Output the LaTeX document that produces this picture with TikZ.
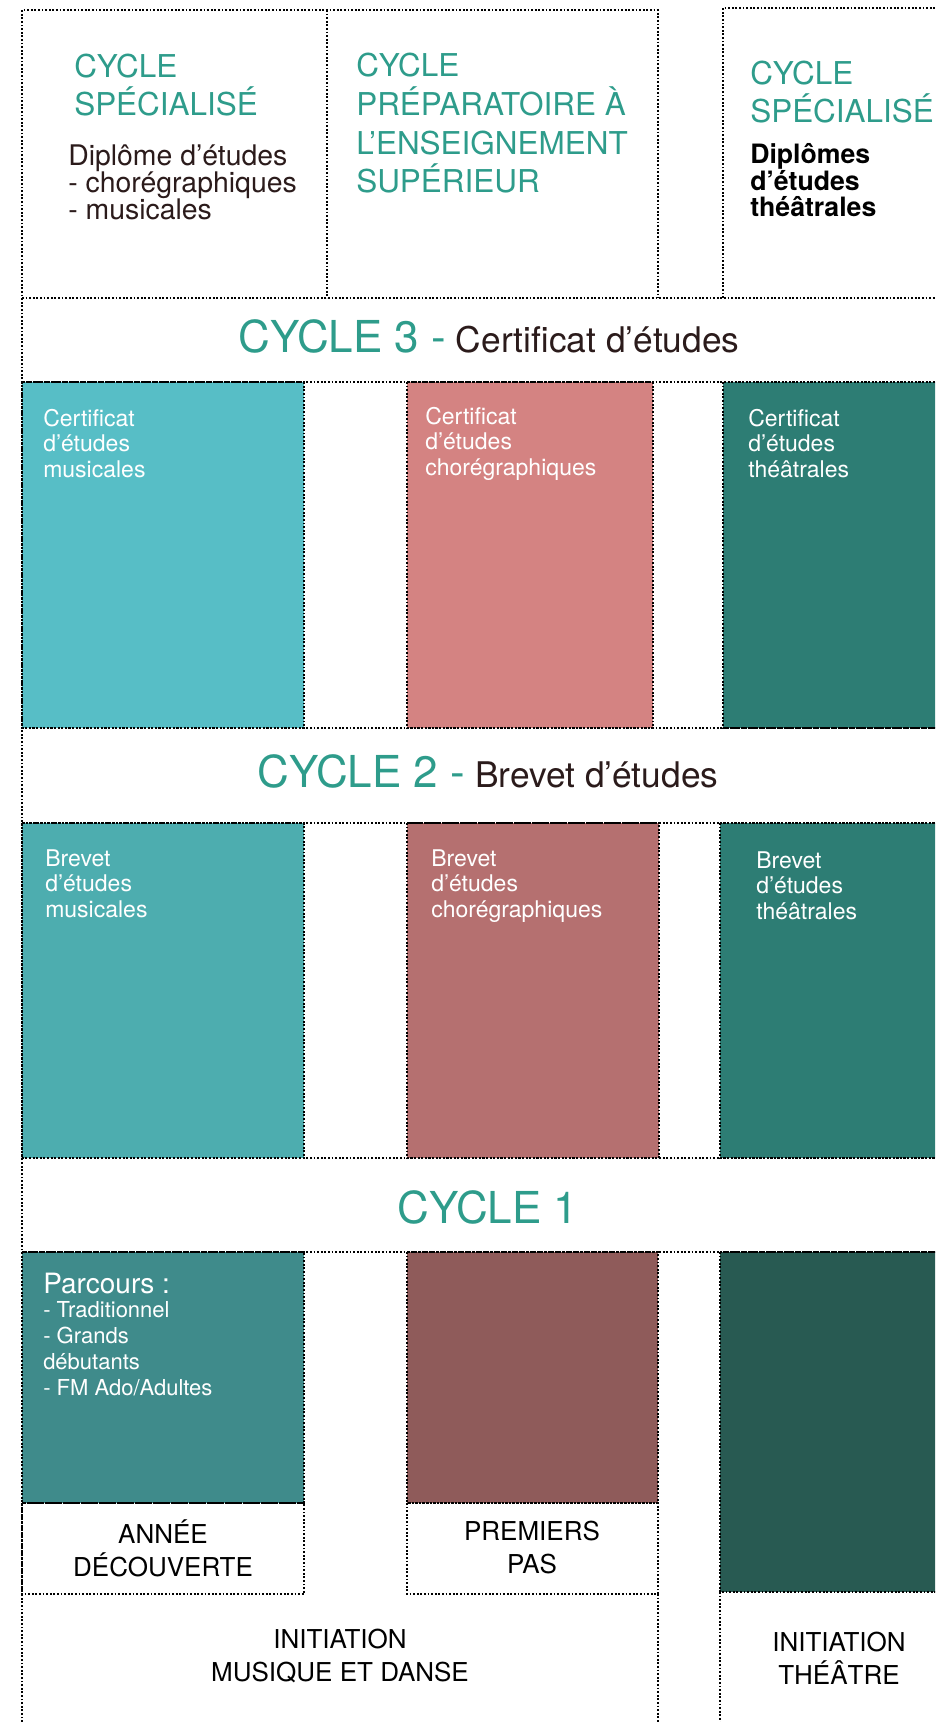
\documentclass[tikz,border=0pt]{standalone}
\usepackage{fontspec}
\setmainfont{TeX Gyre Heros}
\definecolor{cyclegreen}{HTML}{2E9C8B}
\definecolor{ink}{HTML}{2B1B1B}
\definecolor{musA}{HTML}{57BEC6}
\definecolor{musB}{HTML}{4DADAF}
\definecolor{musC}{HTML}{3F8B8B}
\definecolor{danseA}{HTML}{D48382}
\definecolor{danseB}{HTML}{B57070}
\definecolor{danseC}{HTML}{8F5B5A}
\definecolor{theaA}{HTML}{2D7D74}
\definecolor{theaB}{HTML}{2D7D74}
\definecolor{theaC}{HTML}{285A52}
\tikzset{
  dotrule/.style={line width=1.3pt, dash pattern=on 1.3pt off 1.4pt},
  head/.style={text=cyclegreen, font=\fontsize{23.6}{29}\selectfont, align=left, inner sep=0pt, anchor=base west},
  diplo/.style={text=ink, font=\fontsize{21.3}{20.3}\selectfont, align=left, inner sep=0pt, anchor=base west},
  boxtxt/.style={text=white, font=\fontsize{17.25}{19.1}\selectfont, align=left, inner sep=0pt, anchor=base west},
  level/.style={text=black, font=\fontsize{19.5}{24.7}\selectfont, align=center, inner sep=0pt, anchor=base},
  band/.style={inner sep=0pt, anchor=base}
}
\newcommand{\bigcycle}[1]{{\color{cyclegreen}\fontsize{33}{38}\selectfont #1}}
\newcommand{\subcycle}[1]{{\color{ink}\fontsize{26.5}{30}\selectfont #1}}
\begin{document}
\begin{tikzpicture}[x=0.75pt, y=-0.75pt]
    \useasboundingbox (0,0) rectangle (935,1722);
    \clip (0,0) rectangle (935,1722);
    % colour columns
    \foreach \xa/\xb/\ya/\yb/\col in {22/304/382/728/musA, 407/653/382/728/danseA, 723/960/382/728/theaA,
      22/304/823/1158/musB, 407/659/823/1158/danseB, 720/960/823/1158/theaB,
      22/304/1252/1503/musC, 407/658/1252/1503/danseC, 720/960/1252/1592/theaC}
      { \filldraw[fill=\col, dotrule] (\xa,\ya) rectangle (\xb,\yb); }
    % dotted frame
    \draw[dotrule] (22,1722) -- (22,10) -- (658,10) -- (658,298);
    \draw[dotrule] (327,10) -- (327,298);
    \draw[dotrule] (723,298) -- (723,8) -- (960,8);
    \foreach \y in {298,382,728,823,1158,1252} { \draw[dotrule] (22,\y) -- (960,\y); }
    \draw[dotrule]
      (22,1503) rectangle (304,1594)
      (407,1503) rectangle (658,1594)
      (658,1594) -- (658,1722)
      (720,1592) -- (720,1722)
    ;

    % top row (nodes sit on the baseline of their last line)
    \node[head] (specmd) at (74,116) {CYCLE\\SPÉCIALISÉ};
    \node[diplo] (diplmd) at (68,220) {Diplôme d’études\\- chorégraphiques\\- musicales};
    \node[head] (prepsup) at (356,193) {CYCLE\\PRÉPARATOIRE À\\L’ENSEIGNEMENT\\SUPÉRIEUR};
    \node[head] (spect) at (750,123) {CYCLE\\SPÉCIALISÉ};
    \node[diplo, text=black, font=\fontsize{20}{20}\selectfont\bfseries] (diplt) at (750,217) {Diplômes\\d’études\\théâtrales};

    % cycle bands
    \node[band] (cyc3) at (489,353) {\bigcycle{CYCLE 3 -}\subcycle{ Certificat d’études}};
    \node[band] (cyc2) at (488,787) {\bigcycle{CYCLE 2 -}\subcycle{ Brevet d’études}};
    \node[band] (cyc1) at (488,1223) {\bigcycle{CYCLE 1}};

    % column texts
    \node[boxtxt] (certmus) at (43,477) {Certificat\\d’études\\musicales};
    \node[boxtxt] (certdanse) at (425,475) {Certificat\\d’études\\chorégraphiques};
    \node[boxtxt] (certthea) at (748,477) {Certificat\\d’études\\théâtrales};
    \node[boxtxt] (brevmus) at (45,917) {Brevet\\d’études\\musicales};
    \node[boxtxt] (brevdanse) at (431,917) {Brevet\\d’études\\chorégraphiques};
    \node[boxtxt] (brevthea) at (756,919) {Brevet\\d’études\\théâtrales};
    \node[boxtxt, font=\fontsize{21}{24}\selectfont] (parcours) at (43,1293) {Parcours :};
    \node[boxtxt, font=\fontsize{16.5}{19.3}\selectfont] (parclist) at (43,1395) {- Traditionnel\\- Grands\\débutants\\- FM Ado/Adultes};

    % entry levels
    \node[level] (decouv) at (163,1576) {ANNÉE\\DÉCOUVERTE};
    \node[level] (premiers) at (532,1573) {PREMIERS\\PAS};
    \node[level] (initmd) at (340,1681) {INITIATION\\MUSIQUE ET DANSE};
    \node[level] (initth) at (839,1684) {INITIATION\\THÉÂTRE};
  \end{tikzpicture}
\end{document}
